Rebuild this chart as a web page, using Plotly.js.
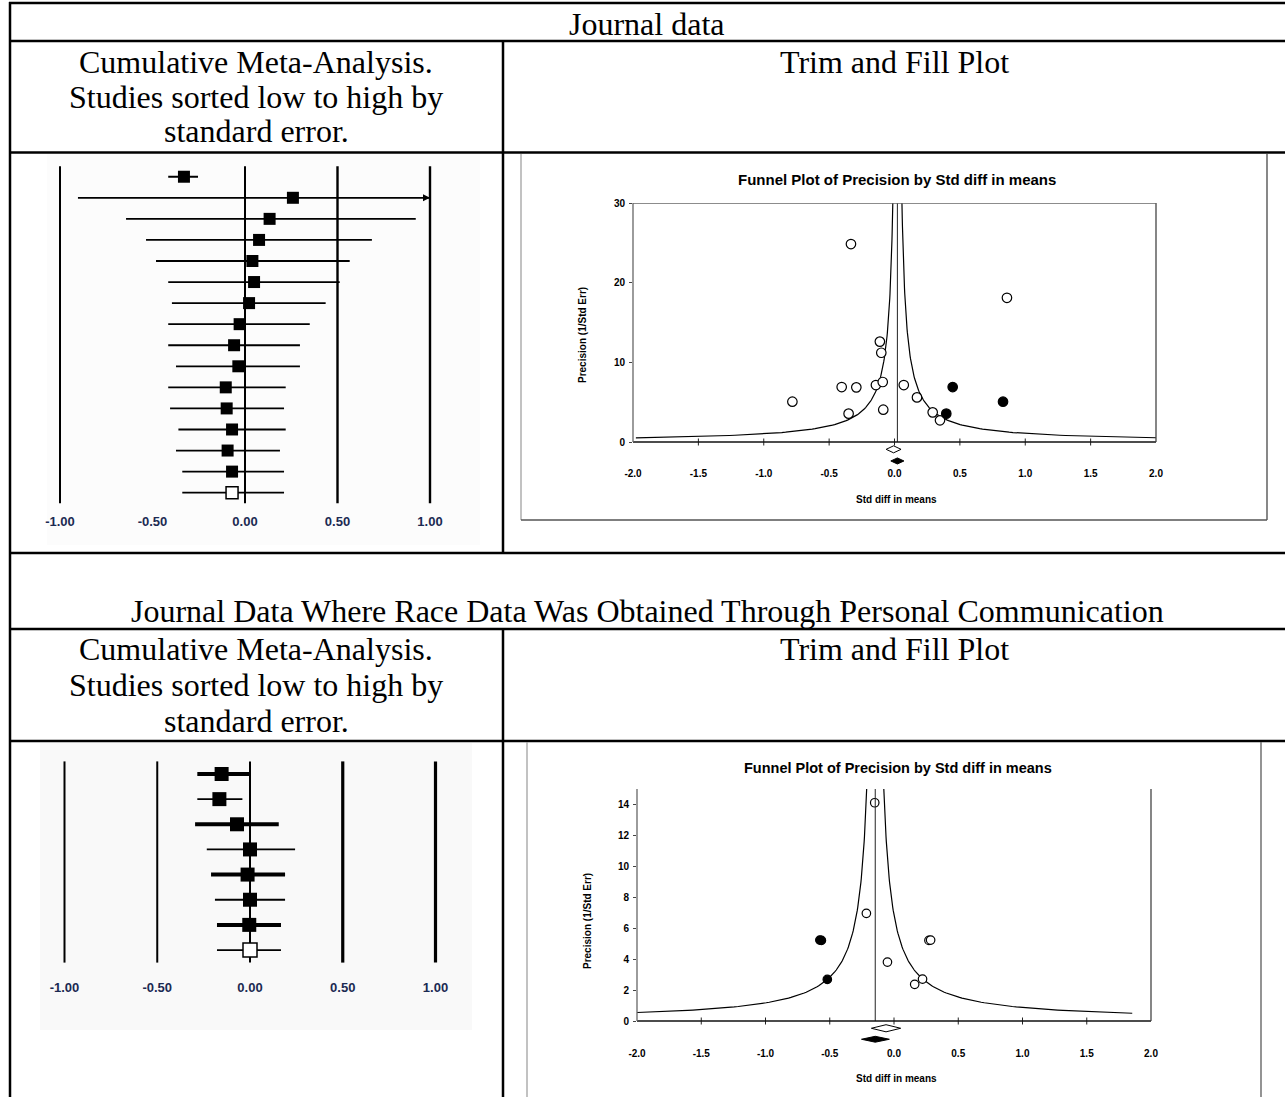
<!DOCTYPE html>
<html><head><meta charset="utf-8">
<script src="https://cdn.plot.ly/plotly-3.0.1.min.js"></script>
<style>html,body{margin:0;padding:0;background:#fff}#chart{width:1285px;height:1097px}</style>
</head><body><div id="chart"></div>
<script>
// ================= DATA =================
// Panel text
const sectionTitles = ['Journal data', 'Journal Data Where Race Data Was Obtained Through Personal Communication'];
const leftHeaderLines = ['Cumulative Meta-Analysis.', 'Studies sorted low to high by', 'standard error.'];
const rightHeader = 'Trim and Fill Plot';
const funnelTitle = 'Funnel Plot of Precision by Std diff in means';
const funnelXTitle = 'Std diff in means';
const funnelYTitle = 'Precision (1/Std Err)';

// Forest plot 1 (cumulative, 15 studies + pooled)
const forest1Est  = [-0.330, 0.259, 0.133, 0.076, 0.040, 0.049, 0.022, -0.029, -0.059, -0.036, -0.104, -0.099, -0.070, -0.094, -0.070, -0.070];
const forest1Low  = [-0.415, -0.903, -0.643, -0.535, -0.481, -0.415, -0.395, -0.415, -0.415, -0.373, -0.415, -0.405, -0.360, -0.373, -0.339, -0.339];
const forest1High = [-0.254, 1.000, 0.923, 0.686, 0.566, 0.512, 0.436, 0.350, 0.297, 0.297, 0.220, 0.211, 0.220, 0.189, 0.211, 0.211];
const forest1RefLines = [-1, 0, 0.5, 1];

// Forest plot 2 (cumulative, 7 studies + pooled)
const forest2Est  = [-0.153, -0.165, -0.070, 0.000, -0.013, 0.000, -0.004, 0.000];
const forest2Low  = [-0.284, -0.284, -0.296, -0.233, -0.210, -0.189, -0.178, -0.178];
const forest2High = [-0.004, -0.041, 0.155, 0.243, 0.189, 0.189, 0.167, 0.167];
const forest2RefLines = [-1, -0.5, 0, 0.5, 1];

const forestTickVals = [-1, -0.5, 0, 0.5, 1];
const forestTickText = ['-1.00', '-0.50', '0.00', '0.50', '1.00'];

// Funnel plot 1
const funnel1ObsX = [-0.333, 0.860, -0.112, -0.101, -0.404, -0.292, -0.142, -0.090, 0.071, -0.781, 0.172, -0.351, -0.086, 0.292, 0.348];
const funnel1ObsP = [24.85, 18.10, 12.60, 11.20, 6.90, 6.86, 7.15, 7.53, 7.15, 5.06, 5.60, 3.56, 4.06, 3.72, 2.72];
const funnel1ImpX = [0.445, 0.830, 0.396];
const funnel1ImpP = [6.90, 5.06, 3.56];
const funnel1Mean = 0.022;
const funnel1DiamondEst  = [-0.007, 0.022];   // observed, adjusted
const funnel1DiamondLow  = [-0.064, -0.028];
const funnel1DiamondHigh = [0.050, 0.072];
const funnel1YTicks = [0, 10, 20, 30];

// Funnel plot 2
const funnel2ObsX = [-0.150, -0.215, 0.272, 0.285, -0.051, 0.222, 0.161];
const funnel2ObsP = [14.11, 6.96, 5.21, 5.23, 3.81, 2.71, 2.37];
const funnel2ImpX = [-0.565, -0.577, -0.519];
const funnel2ImpP = [5.21, 5.23, 2.69];
const funnel2Mean = -0.146;
const funnel2DiamondEst  = [-0.062, -0.146];
const funnel2DiamondLow  = [-0.176, -0.253];
const funnel2DiamondHigh = [0.052, -0.036];
const funnel2YTicks = [0, 2, 4, 6, 8, 10, 12, 14];

const funnelXTickVals = [-2, -1.5, -1, -0.5, 0, 0.5, 1, 1.5, 2];
const funnelXTickText = ['-2.0', '-1.5', '-1.0', '-0.5', '0.0', '0.5', '1.0', '1.5', '2.0'];

// ================= LAYOUT HELPERS =================
const W = 1285, H = 1097;
const px = x => x / W;
const py = y => 1 - y / H;
const SERIF = 'Liberation Serif, Times New Roman, serif';
const SANS = 'Liberation Sans, Arial, sans-serif';
const rows = n => Array.from({length: n}, (_, i) => i + 1);

const traces = [];
const shapes = [];
const annotations = [];

function hline(y, x0, x1, w, c) {
  shapes.push({type: 'line', xref: 'paper', yref: 'paper', x0: px(x0), x1: px(x1), y0: py(y), y1: py(y), line: {color: c || '#000', width: w || 2.5}});
}
function vline(x, y0, y1, w, c) {
  shapes.push({type: 'line', xref: 'paper', yref: 'paper', x0: px(x), x1: px(x), y0: py(y0), y1: py(y1), line: {color: c || '#000', width: w || 2.5}});
}
function text(t, x, y, size, opts) {
  annotations.push(Object.assign({text: t, xref: 'paper', yref: 'paper', x: px(x), y: py(y), xanchor: 'center', yanchor: 'middle', showarrow: false, font: {family: SERIF, size: size || 32, color: '#000'}}, opts || {}));
}

// backgrounds of pasted forest images
shapes.push({type: 'rect', xref: 'paper', yref: 'paper', x0: px(47), x1: px(480), y0: py(545), y1: py(154), fillcolor: '#fcfcfc', line: {width: 0}, layer: 'below'});
shapes.push({type: 'rect', xref: 'paper', yref: 'paper', x0: px(40), x1: px(472), y0: py(1030), y1: py(743), fillcolor: '#f9f9f9', line: {width: 0}, layer: 'below'});

// ---- table grid ----
[3, 41, 152.5, 553, 629, 741].forEach(y => hline(y, 9, 1285));
vline(10, 2, 1097);
vline(503, 41, 553);
vline(503, 629, 1097);

// ---- table text ----
text(sectionTitles[0], 647, 24);
text(sectionTitles[1], 647, 611);
[62, 97, 131].forEach((y, i) => text(leftHeaderLines[i], 256, y));
[649, 685, 721].forEach((y, i) => text(leftHeaderLines[i], 256, y));
text(rightHeader, 894, 62);
text(rightHeader, 894, 649);

// ---- funnel image frames ----
vline(521, 154, 520, 1.2, '#999');
vline(1267, 154, 520, 1.4, '#555');
hline(520, 521, 1267, 1.4, '#555');
vline(527, 742, 1097, 1.2, '#999');
vline(1261, 742, 1097, 1.4, '#666');

// ================= FOREST PLOTS =================
function forest(xa, ya, est, lo, hi, refLines, refWidths, sq, thickFn) {
  const n = est.length;
  const y = rows(n);
  refLines.forEach((v, i) => shapes.push({type: 'line', xref: xa, yref: ya + ' domain', x0: v, x1: v, y0: 0, y1: 1, line: {color: '#000', width: refWidths[i]}, layer: 'below'}));
  const groups = {};
  for (let i = 0; i < n; i++) {
    const key = (thickFn(i) ? 't' : 'n') + (i === n - 1 ? 'p' : 's');
    (groups[key] = groups[key] || []).push(i);
  }
  Object.keys(groups).forEach(key => {
    const idx = groups[key];
    const pooled = key[1] === 'p';
    traces.push({
      type: 'scatter', mode: 'markers', xaxis: xa, yaxis: ya,
      x: idx.map(i => est[i]), y: idx.map(i => y[i]),
      error_x: {type: 'data', symmetric: false, array: idx.map(i => hi[i] - est[i]), arrayminus: idx.map(i => est[i] - lo[i]), color: '#000', thickness: key[0] === 't' ? 4 : 1.8, width: 0},
      marker: {symbol: 'square', size: sq, color: pooled ? '#fff' : '#000', line: {color: '#000', width: pooled ? 1.5 : 0}},
      hoverinfo: 'skip', showlegend: false, cliponaxis: false
    });
  });
  // arrows for truncated intervals
  const ar = [];
  for (let i = 0; i < n; i++) if (hi[i] >= 1) ar.push(i);
  if (ar.length) traces.push({type: 'scatter', mode: 'markers', xaxis: xa, yaxis: ya, x: ar.map(i => hi[i]), y: ar.map(i => y[i]),
    marker: {symbol: 'arrow-right', size: 7, color: '#000'}, hoverinfo: 'skip', showlegend: false, cliponaxis: false});
}
forest('x', 'y', forest1Est, forest1Low, forest1High, forest1RefLines, [2, 2, 2.4, 2.4], 12, i => false);
forest('x3', 'y3', forest2Est, forest2Low, forest2High, forest2RefLines, [2, 2, 2, 3.2, 3.2], 14, i => i % 2 === 0 && i < forest2Est.length - 1);

// ================= FUNNEL PLOTS =================
function funnel(xa, ya, obsX, obsP, impX, impP, mu, k, pTop, dEst, dLow, dHigh, dY, dHalf, yTicks, fullBox, msize) {
  // funnel limits
  const dMin = k / pTop, dMax = 2.0, N = 120;
  const ds = Array.from({length: N}, (_, i) => dMax * Math.pow(dMin / dMax, i / (N - 1)));
  traces.push({type: 'scatter', mode: 'lines', xaxis: xa, yaxis: ya, x: ds.map(d => mu - d), y: ds.map(d => k / d), line: {color: '#000', width: 1.2}, hoverinfo: 'skip', showlegend: false});
  traces.push({type: 'scatter', mode: 'lines', xaxis: xa, yaxis: ya, x: ds.map(d => mu + d), y: ds.map(d => k / d), line: {color: '#000', width: 1.2}, hoverinfo: 'skip', showlegend: false});
  // center line
  shapes.push({type: 'line', xref: xa, yref: ya, x0: mu, x1: mu, y0: 0, y1: pTop, line: {color: '#222', width: 1}});
  // frame
  const yr = ya;
  shapes.push({type: 'line', xref: xa + ' domain', yref: yr, x0: 0, x1: 1, y0: 0, y1: 0, line: {color: '#111', width: 1.5}});
  shapes.push({type: 'line', xref: xa + ' domain', yref: yr, x0: 0, x1: 0, y0: 0, y1: pTop, line: {color: '#666', width: 1.3}});
  shapes.push({type: 'line', xref: xa + ' domain', yref: yr, x0: 1, x1: 1, y0: 0, y1: pTop, line: {color: '#444', width: 1.3}});
  if (fullBox) shapes.push({type: 'line', xref: xa + ' domain', yref: yr, x0: 0, x1: 1, y0: pTop, y1: pTop, line: {color: '#666', width: 1.3}});
  // x tick marks on the zero line
  traces.push({type: 'scatter', mode: 'markers', xaxis: xa, yaxis: ya, x: funnelXTickVals.slice(1, -1), y: funnelXTickVals.slice(1, -1).map(() => 0),
    marker: {symbol: 'line-ns-open', size: 5, color: '#222', line: {color: '#222', width: 1}}, hoverinfo: 'skip', showlegend: false});
  // diamonds
  dEst.forEach((e, i) => {
    traces.push({type: 'scatter', mode: 'lines', xaxis: xa, yaxis: ya, fill: 'toself',
      fillcolor: i === 0 ? '#fff' : '#000',
      x: [dLow[i], e, dHigh[i], e, dLow[i]],
      y: [dY[i], dY[i] + dHalf[i], dY[i], dY[i] - dHalf[i], dY[i]],
      line: {color: '#000', width: 1}, hoverinfo: 'skip', showlegend: false});
  });
  // studies
  traces.push({type: 'scatter', mode: 'markers', xaxis: xa, yaxis: ya, x: obsX, y: obsP,
    marker: {symbol: 'circle', size: msize, color: '#fff', line: {color: '#000', width: 1.2}}, hoverinfo: 'skip', showlegend: false});
  traces.push({type: 'scatter', mode: 'markers', xaxis: xa, yaxis: ya, x: impX, y: impP,
    marker: {symbol: 'circle', size: msize, color: '#000', line: {color: '#000', width: 1.2}}, hoverinfo: 'skip', showlegend: false});
}
funnel('x2', 'y2', funnel1ObsX, funnel1ObsP, funnel1ImpX, funnel1ImpP, funnel1Mean, 1.05, 30,
  funnel1DiamondEst, funnel1DiamondLow, funnel1DiamondHigh, [-0.92, -2.38], [0.44, 0.38], funnel1YTicks, true, 9.5);
funnel('x4', 'y4', funnel2ObsX, funnel2ObsP, funnel2ImpX, funnel2ImpP, funnel2Mean, 1.0, 15,
  funnel2DiamondEst, funnel2DiamondLow, funnel2DiamondHigh, [-0.47, -1.18], [0.23, 0.19], funnel2YTicks, false, 8.5);

// funnel titles
text(funnelTitle, 897, 180, 15, {font: {family: SANS, size: 15, weight: 'bold', color: '#000'}});
text(funnelTitle, 898, 768, 14.5, {font: {family: SANS, size: 14.5, weight: 'bold', color: '#000'}});
text(funnelXTitle, 896, 499, 10, {font: {family: SANS, size: 10, weight: 'bold', color: '#000'}});
text(funnelXTitle, 896, 1078, 10, {font: {family: SANS, size: 10, weight: 'bold', color: '#000'}});
text(funnelYTitle, 582, 335, 10, {textangle: -90, font: {family: SANS, size: 10, weight: 'bold', color: '#000'}});
text(funnelYTitle, 588, 921, 10, {textangle: -90, font: {family: SANS, size: 10, weight: 'bold', color: '#000'}});

// ================= AXES =================
const forestTickFont = {family: SANS, size: 13, weight: 'bold', color: '#1b2a52'};
const funnelTickFont = {family: SANS, size: 10, weight: 'bold', color: '#000'};
const base = {showgrid: false, zeroline: false, showline: false, fixedrange: true};

const f1Bottom = 465, f1Zero = 442, f1Top = 203;
const f2Bottom = 1044, f2Zero = 1021, f2Top = 789;

const layout = {
  width: W, height: H, margin: {l: 0, r: 0, t: 0, b: 0},
  paper_bgcolor: '#fff', plot_bgcolor: 'rgba(0,0,0,0)', showlegend: false, hovermode: false,
  xaxis: Object.assign({}, base, {domain: [px(41.5), px(448.5)], range: [-1.1, 1.1], anchor: 'y', tickvals: forestTickVals, ticktext: forestTickText, ticks: '', tickfont: forestTickFont, ticklabelstandoff: 9}),
  yaxis: Object.assign({}, base, {domain: [py(503.2), py(166.2)], range: [16.5, 0.5], anchor: 'x', showticklabels: false, ticks: ''}),
  xaxis3: Object.assign({}, base, {domain: [px(45.95), px(454.05)], range: [-1.1, 1.1], anchor: 'y3', tickvals: forestTickVals, ticktext: forestTickText, ticks: '', tickfont: forestTickFont, ticklabelstandoff: 15}),
  yaxis3: Object.assign({}, base, {domain: [py(962.6), py(761.4)], range: [8.5, 0.5], anchor: 'x3', showticklabels: false, ticks: ''}),
  xaxis2: Object.assign({}, base, {domain: [px(633), px(1156)], range: [-2, 2], anchor: 'y2', tickvals: funnelXTickVals, ticktext: funnelXTickText, ticks: '', tickfont: funnelTickFont, ticklabelstandoff: 1}),
  yaxis2: Object.assign({}, base, {domain: [py(f1Bottom), py(f1Top)], range: [-(f1Bottom - f1Zero) / ((f1Zero - f1Top) / 30), 30], anchor: 'x2', tickvals: funnel1YTicks, ticks: 'outside', ticklen: 3, tickcolor: '#444', tickfont: funnelTickFont, ticklabelstandoff: 2}),
  xaxis4: Object.assign({}, base, {domain: [px(637), px(1151)], range: [-2, 2], anchor: 'y4', tickvals: funnelXTickVals, ticktext: funnelXTickText, ticks: '', tickfont: funnelTickFont, ticklabelstandoff: 2}),
  yaxis4: Object.assign({}, base, {domain: [py(f2Bottom), py(f2Top)], range: [-(f2Bottom - f2Zero) / ((f2Zero - f2Top) / 15), 15], anchor: 'x4', tickvals: funnel2YTicks, ticks: 'outside', ticklen: 3, tickcolor: '#444', tickfont: funnelTickFont, ticklabelstandoff: 2}),
  shapes: shapes,
  annotations: annotations
};

Plotly.newPlot('chart', traces, layout, {staticPlot: true, displayModeBar: false});
</script>
</body></html>
